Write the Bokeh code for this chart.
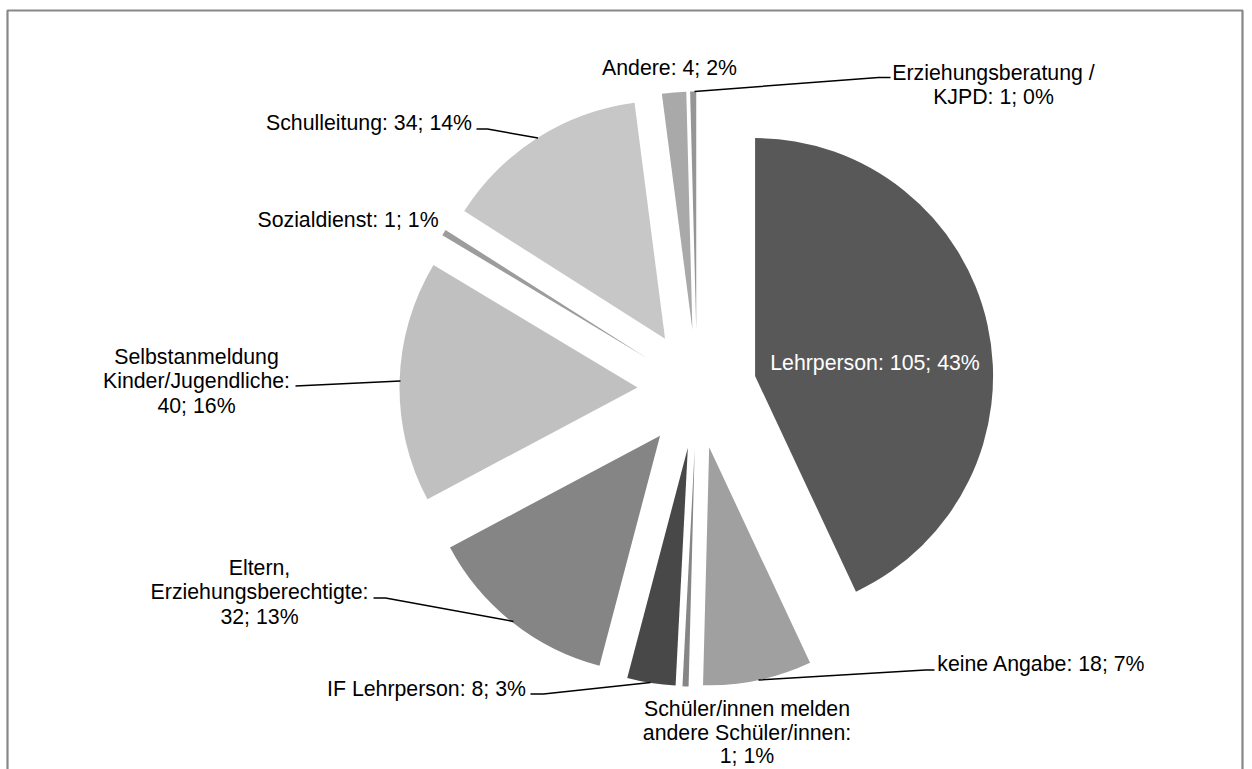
import math
from bokeh.plotting import figure
from bokeh.models import Range1d, ColumnDataSource
from bokeh.embed import file_html
from bokeh.resources import INLINE
from bokeh.core.properties import value as pv

# ---------------- data ----------------
categories = [
    "Lehrperson",
    "keine Angabe",
    "Schüler/innen melden andere Schüler/innen",
    "IF Lehrperson",
    "Eltern, Erziehungsberechtigte",
    "Selbstanmeldung Kinder/Jugendliche",
    "Sozialdienst",
    "Schulleitung",
    "Andere",
    "Erziehungsberatung / KJPD",
]
values = [105, 18, 1, 8, 32, 40, 1, 34, 4, 1]
percents = [43, 7, 1, 3, 13, 16, 1, 14, 2, 0]
colors = ["#585858", "#a0a0a0", "#868686", "#484848", "#858585",
          "#c0c0c0", "#9c9c9c", "#c7c7c7", "#a9a9a9", "#969696"]
# how each label is wrapped
label_wrap = [
    ["Lehrperson: {v}; {p}%"],
    ["keine Angabe: {v}; {p}%"],
    ["Schüler/innen melden", "andere Schüler/innen:", "{v}; {p}%"],
    ["IF Lehrperson: {v}; {p}%"],
    ["Eltern,", "Erziehungsberechtigte:", "{v}; {p}%"],
    ["Selbstanmeldung", "Kinder/Jugendliche:", "{v}; {p}%"],
    ["Sozialdienst: {v}; {p}%"],
    ["Schulleitung: {v}; {p}%"],
    ["Andere: {v}; {p}%"],
    ["Erziehungsberatung /", "KJPD: {v}; {p}%"],
]

# ---------------- layout (page pixel coordinates) ----------------
W, H = 1252, 769


def px(x):
    return x


def py(y):
    return H - y


CX, CY = 696.5, 388.5
R = 238
EXPLODE = 59.5
FONT = pv("Liberation Sans")
FS = "21.3px"
LH = [24.3, 24.3, 23.6, 24.3, 24.5, 24.5, 24.3, 24.3, 24.3, 24.0]

# label anchor (center x, first line center y) in page px
label_pos = [
    (874.5, 362), (1041, 663), (746.5, 708.5), (426, 688.5), (259, 567),
    (196, 356), (347.5, 219.5), (368.5, 122), (669, 67.5), (993, 72),
]
leaders = [
    None,
    [(758, 679.5), (925, 669.5), (934, 669.5)],
    None,
    [(530, 693.5), (543, 693.5), (650, 682)],
    [(373, 597.5), (385, 597.5), (513, 621)],
    [(295, 385.5), (400, 380.5)],
    None,
    [(476, 128.5), (487, 128.5), (537.5, 137.5)],
    None,
    [(890, 77), (878, 77), (694, 91)],
]

p = figure(width=W, height=H, x_range=Range1d(0, W), y_range=Range1d(0, H),
           output_backend="svg", toolbar_location=None, min_border=0)
p.axis.visible = False
p.grid.visible = False
p.outline_line_color = None
p.background_fill_color = "white"
p.border_fill_color = "white"

# chart border
p.line(x=[px(7), px(7), px(1242), px(1242)], y=[py(780), py(10), py(10), py(780)],
       line_color="#878787", line_width=2.2)

total = sum(values)
cum = 0
xs, ys, st, en = [], [], [], []
for v in values:
    a0 = cum / total * 360.0
    cum += v
    a1 = cum / total * 360.0
    mid = math.radians((a0 + a1) / 2)
    xs.append(px(CX + EXPLODE * math.sin(mid)))
    ys.append(py(CY - EXPLODE * math.cos(mid)))
    st.append(math.radians(90 - a0))
    en.append(math.radians(90 - a1))

src = ColumnDataSource(dict(x=xs, y=ys, start=st, end=en, color=colors))
p.wedge(x="x", y="y", radius=R, start_angle="start", end_angle="end",
        direction="clock", fill_color="color", line_color=None, source=src)

# leader lines
for ld in leaders:
    if ld:
        p.line(x=[px(a) for a, b in ld], y=[py(b) for a, b in ld],
               line_color="black", line_width=1.5)

# labels
tx, ty, tt, tc = [], [], [], []
for i, wrap in enumerate(label_wrap):
    lx, ly = label_pos[i]
    for k, line in enumerate(wrap):
        tx.append(px(lx))
        ty.append(py(ly + k * LH[i]))
        tt.append(line.format(v=values[i], p=percents[i]))
        tc.append("white" if i == 0 else "black")

p.text(x=tx, y=ty, text=tt, text_color=tc, text_font=FONT, text_font_size=FS,
       text_align="center", text_baseline="middle")

open("out.html", "w").write(file_html(p, INLINE))
